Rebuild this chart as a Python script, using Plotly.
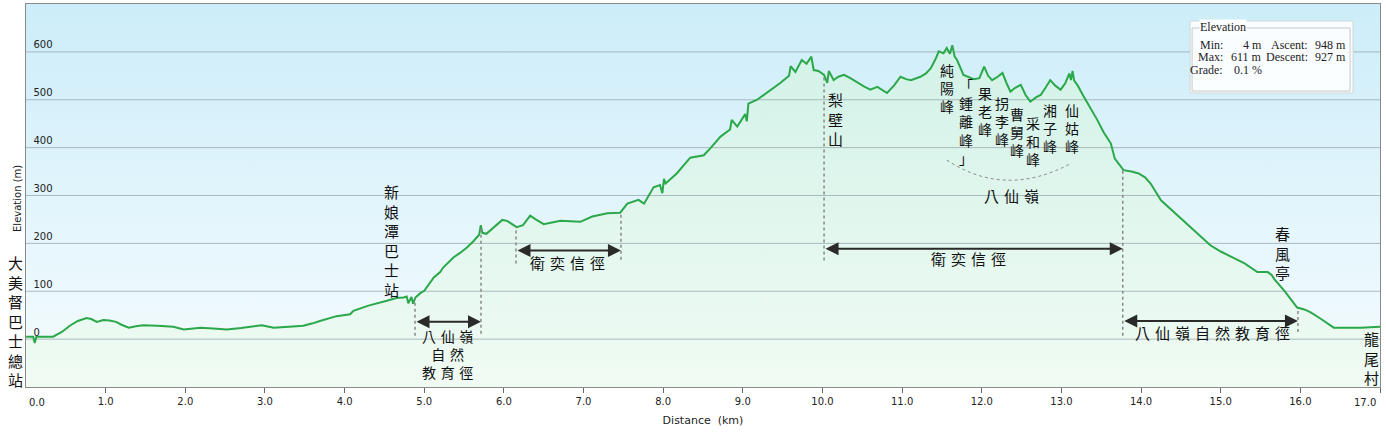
import numpy as np
import plotly.graph_objects as go

# elevation profile
dist_km = [0.00, 0.09, 0.11, 0.13, 0.34, 0.45, 0.55, 0.65, 0.76, 0.82, 0.89, 0.97, 1.05, 1.13, 1.20,
           1.29, 1.38, 1.47, 1.65, 1.85, 1.98, 2.10, 2.19, 2.35, 2.52, 2.70, 2.86, 2.96, 3.02, 3.11,
           3.30, 3.48, 3.60, 3.69, 3.90, 4.07, 4.11, 4.30, 4.53, 4.65, 4.74, 4.78, 4.80, 4.84, 4.86,
           4.89, 4.95, 5.00, 5.12, 5.20, 5.24, 5.37, 5.45, 5.54, 5.62, 5.69, 5.71, 5.73, 5.78, 5.98,
           6.04, 6.16, 6.24, 6.33, 6.40, 6.50, 6.71, 6.96, 7.11, 7.30, 7.46, 7.55, 7.69, 7.76, 7.88,
           7.96, 7.99, 8.01, 8.03, 8.17, 8.34, 8.51, 8.60, 8.72, 8.84, 8.86, 8.93, 9.03, 9.05, 9.07,
           9.18, 9.30, 9.47, 9.58, 9.60, 9.66, 9.74, 9.80, 9.86, 9.89, 9.95, 10.02, 10.06, 10.08,
           10.14, 10.20, 10.27, 10.35, 10.44, 10.52, 10.60, 10.69, 10.81, 10.90, 10.98, 11.05,
           11.11, 11.23, 11.30, 11.36, 11.42, 11.46, 11.52, 11.56, 11.60, 11.63, 11.66, 11.69,
           11.77, 11.90, 11.97, 12.03, 12.08, 12.13, 12.20, 12.26, 12.31, 12.36, 12.42, 12.49,
           12.55, 12.61, 12.68, 12.74, 12.80, 12.86, 12.92, 12.99, 13.05, 13.10, 13.12, 13.14,
           13.16, 13.20, 13.28, 13.36, 13.45, 13.53, 13.62, 13.67, 13.78, 13.88, 13.97, 14.05,
           14.12, 14.25, 14.38, 14.50, 14.60, 14.71, 14.87, 15.00, 15.17, 15.30, 15.46, 15.59,
           15.64, 15.67, 15.80, 15.90, 15.96, 16.05, 16.10, 16.13, 16.26, 16.42, 16.60, 16.76, 17.00]
elev_m = [5, 5, -8, 5, 5, 15, 28, 38, 44, 42, 36, 40, 39, 36, 30,
          24, 27, 29, 28, 26, 20, 22, 24, 22, 20, 23, 26, 29, 27, 24,
          26, 28, 33, 38, 48, 52, 59, 70, 80, 86, 87, 89, 75, 88, 74,
          87, 96, 101, 129, 140, 150, 171, 180, 192, 205, 218, 238, 222, 220, 249,
          247, 234, 238, 258, 250, 240, 247, 245, 256, 263, 264, 283, 291, 283, 317,
          322, 305, 335, 325, 346, 379, 384, 400, 423, 438, 458, 444, 470, 455, 492,
          500, 514, 535, 550, 570, 558, 583, 575, 590, 562, 560, 552, 535, 560,
          541, 548, 552, 545, 535, 528, 521, 527, 514, 530, 548, 543,
          541, 548, 555, 566, 585, 601, 597, 608, 596, 614, 590, 583,
          552, 543, 545, 569, 550, 541, 548, 556, 535, 517, 525, 531,
          510, 496, 505, 510, 525, 541, 530, 521, 535, 555, 541, 560,
          540, 531, 507, 485, 458, 432, 409, 377, 353, 350, 346, 338,
          325, 290, 270, 252, 238, 220, 196, 183, 168, 158, 140, 140,
          134, 126, 101, 78, 66, 62, 58, 56, 42, 24, 24, 24, 26]

x_ticks = list(range(0, 18))
y_ticks = [0, 100, 200, 300, 400, 500, 600]
x_range = [0, 17]
y_range = [-100, 700]

# summary box values
min_elev = 4
max_elev = 611
ascent = 948
descent = 927
grade = 0.1

cjk = "Noto Sans CJK TC"
ink = "#111111"
axis_font = dict(family="DejaVu Sans", size=10, color="#222222")


def vtext(s):
    return "<br>".join(s)


def spaced(s):
    return "\u2004".join(s)


fig = go.Figure()

# sky background
fig.add_trace(go.Scatter(
    x=[x_range[0], x_range[1], x_range[1], x_range[0]],
    y=[y_range[0], y_range[0], y_range[1], y_range[1]],
    mode="lines", line=dict(width=0), fill="toself",
    fillgradient=dict(type="vertical", start=y_range[0], stop=y_range[1],
                      colorscale=[[0, "rgb(246,252,254)"], [1, "rgb(204,237,249)"]]),
    hoverinfo="skip", showlegend=False))

# area under profile
fig.add_trace(go.Scatter(
    x=[dist_km[0]] + dist_km + [dist_km[-1]],
    y=[y_range[0]] + elev_m + [y_range[0]],
    mode="lines", line=dict(width=0), fill="toself",
    fillgradient=dict(type="vertical", start=y_range[0], stop=620,
                      colorscale=[[0, "rgb(240,251,243)"], [1, "rgb(210,242,232)"]]),
    hoverinfo="skip", showlegend=False))

# horizontal grid drawn over the fills
gx, gy = [], []
for v in y_ticks:
    gx += [x_range[0], x_range[1], None]
    gy += [v, v, None]
fig.add_trace(go.Scatter(x=gx, y=gy, mode="lines",
                         line=dict(color="rgba(150,165,172,0.75)", width=1),
                         hoverinfo="skip", showlegend=False))

# the profile line
fig.add_trace(go.Scatter(x=dist_km, y=elev_m, mode="lines",
                         line=dict(color="#2aa84a", width=2),
                         showlegend=False))

# dotted markers for trail sections
marks = [(4.884, 7), (5.713, 11), (6.152, 158), (7.47, 166), (10.02, 164), (13.77, 7), (15.97, 15)]
for km, bottom in marks:
    top = float(np.interp(km, dist_km, elev_m))
    fig.add_shape(type="line", x0=km, x1=km, y0=bottom, y1=top,
                  line=dict(color="#888888", width=1.5, dash="dot"))

# double arrows
arrows = [(36.5, 4.884, 5.713), (185, 6.152, 7.47), (189, 10.02, 13.77), (38, 13.77, 15.97)]
for yv, x0, x1 in arrows:
    fig.add_annotation(x=x1, y=yv, ax=x0, ay=yv, axref="x", ayref="y", text="",
                       showarrow=True, arrowhead=2, startarrowhead=2, arrowside="end+start",
                       arrowsize=1.3, startarrowsize=1.3, arrowwidth=2, arrowcolor="#2a2a2a")

# arc under the eight peaks
fig.add_shape(type="path", path="M 11.56,374 Q 12.30,293 13.13,368",
              line=dict(color="#888888", width=1, dash="dot"))

labels = [
    (vtext("新娘潭巴士站"), 4.595, 205, 15),
    (vtext("梨壁山"), 10.16, 460, 15),
    (vtext("純陽峰"), 11.56, 524, 14),
    (vtext("「鍾離峰」"), 11.80, 454, 14),
    (vtext("果老峰"), 12.04, 477, 14),
    (vtext("拐李峰"), 12.25, 456, 14),
    (vtext("曹舅峰"), 12.44, 433, 14),
    (vtext("采和峰"), 12.64, 413, 14),
    (vtext("湘子峰"), 12.86, 440, 14),
    (vtext("仙姑峰"), 13.13, 440, 14),
    (spaced("八仙嶺"), 12.37, 300, 15),
    (vtext("春風亭"), 15.78, 179, 15),
    (vtext("龍尾村"), 16.89, -40, 15),
    ("<br>".join([spaced("八仙嶺"), spaced("自然"), spaced("教育徑")]), 5.29, -31, 14),
    (spaced("衛奕信徑"), 6.80, 160, 15),
    (spaced("衛奕信徑"), 11.83, 168, 15),
    (spaced("八仙嶺自然教育徑"), 14.90, 13, 15),
]
for text, xv, yv, size in labels:
    fig.add_annotation(x=xv, y=yv, text=text, showarrow=False,
                       xanchor="center", yanchor="middle",
                       font=dict(family=cjk, size=size, color=ink))

# start point label sits left of the frame
fig.add_annotation(xref="paper", x=-0.0074, y=38, text=vtext("大美督巴士總站"), showarrow=False,
                   xanchor="center", yanchor="middle",
                   font=dict(family=cjk, size=15, color=ink))

# end tick labels sit inside the frame, like the original
fig.add_annotation(x=x_ticks[0], y=0, yref="paper", text=f"{x_ticks[0]:.1f}", showarrow=False,
                   xanchor="left", yanchor="top", xshift=1, yshift=-8, font=axis_font)
fig.add_annotation(x=x_ticks[-1], y=0, yref="paper", text=f"{x_ticks[-1]:.1f}", showarrow=False,
                   xanchor="right", yanchor="top", xshift=-2, yshift=-8, font=axis_font)

# summary box (paper coordinates)
fig.add_shape(type="rect", xref="paper", yref="paper", x0=0.8597, x1=0.9801, y0=0.7676, y1=0.9556,
              fillcolor="rgba(255,255,255,0.88)", line=dict(color="#cfd6d8", width=1), layer="above")
fig.add_shape(type="rect", xref="paper", yref="paper", x0=0.8612, x1=0.9779, y0=0.7728, y1=0.9373,
              line=dict(color="#c8c8c8", width=1), layer="above")
serif = dict(family="Liberation Serif", size=12, color="#222222")
fig.add_annotation(xref="paper", yref="paper", x=0.8663, y=0.9392, text="Elevation",
                   showarrow=False, xanchor="left", yanchor="middle", font=serif,
                   bgcolor="rgb(252,254,255)", borderpad=0)
rows = [
    ("Min:", f"{min_elev} m", "Ascent:", f"{ascent} m", 0.8930),
    ("Max:", f"{max_elev} m", "Descent:", f"{descent} m", 0.8624),
    ("Grade:", f"{grade} %", "", "", 0.8277),
]
for c1, c2, c3, c4, yv in rows:
    for txt, xv, anchor in [(c1, 0.8855, "right"), (c2, 0.9143, "right"),
                            (c3, 0.9483, "right"), (c4, 0.9505, "left")]:
        if txt:
            fig.add_annotation(xref="paper", yref="paper", x=xv, y=yv, text=txt,
                               showarrow=False, xanchor=anchor, yanchor="middle", font=serif)

# y title
fig.add_annotation(xref="paper", yref="paper", x=-0.0059, y=0.491, text="Elevation (m)",
                   textangle=-90, showarrow=False, xanchor="center", yanchor="middle",
                   font=dict(family="DejaVu Sans", size=10, color="#222222"))

inner_text = [f"{v:.1f}" if 0 < i < len(x_ticks) - 1 else "" for i, v in enumerate(x_ticks)]
fig.update_xaxes(range=x_range, tickvals=x_ticks, ticktext=inner_text,
                 ticks="outside", ticklen=5, tickcolor="#666666", showgrid=False, zeroline=False,
                 showline=True, linecolor="#8a8a8a", linewidth=1, mirror=True, automargin=False,
                 tickfont=axis_font,
                 title=dict(text="Distance  (km)", standoff=10,
                            font=dict(family="DejaVu Sans", size=11, color="#222222")))
fig.update_yaxes(range=y_range, tickvals=y_ticks, ticklabelposition="inside top",
                 ticks="", showgrid=False, zeroline=False, showline=True, automargin=False,
                 linecolor="#8a8a8a", linewidth=1, mirror=True, ticklabelstandoff=6,
                 tickfont=axis_font)

fig.update_layout(width=1386, height=433, margin=dict(l=26, r=6, t=4, b=46),
                  paper_bgcolor="white", plot_bgcolor="white", showlegend=False)

fig.write_html("out.html", config={"displayModeBar": False},
               post_script="document.body.style.margin='0';document.body.style.overflow='hidden';")
